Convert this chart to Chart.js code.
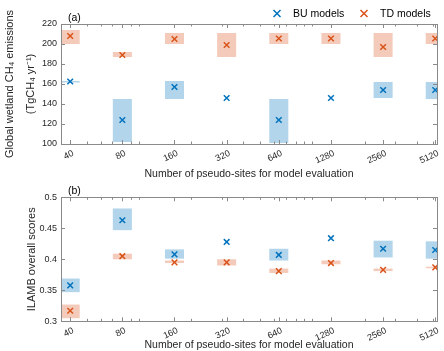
<!DOCTYPE html>
<html>
<head>
<meta charset="utf-8">
<title>pseudo-sites</title>
<script src="https://cdn.jsdelivr.net/npm/chart.js@4/dist/chart.umd.min.js"></script>
<style>
  body { margin: 0; background: #fff; }
  canvas { position: absolute; left: 0; }
</style>
</head>
<body>
<canvas id="emis" width="444" height="180" style="top:0"></canvas>
<canvas id="score" width="444" height="171" style="top:180px"></canvas>
<script>
const sites = [40, 80, 160, 320, 640, 1280, 2560, 5120];
const minorSites = [50, 60, 70, 90, 100, 200, 300, 400, 500, 600, 700, 800, 900, 1000, 2000, 3000, 4000, 5000];

// (a) global wetland CH4 emissions
const buEmis   = [162.5, 124, 157, 146, 124, 146, 154, 154];
const buEmisLo = [162, 102, 145, null, 101, null, 146, 145];
const buEmisHi = [163, 145, 163, null, 145, null, 162, 162];
const tdEmis   = [208, 189, 205, 199, 205.5, 205.5, 197, 205.5];
const tdEmisLo = [200, 187, 200, 187, 200, 200, 187, 200];
const tdEmisHi = [214, 192, 211, 211, 211, 211, 211, 211];
const emisTicks = [100, 120, 140, 160, 180, 200, 220];

// (b) ILAMB overall scores
const buScore   = [0.358, 0.463, 0.408, 0.428, 0.407, 0.434, 0.417, 0.415];
const buScoreLo = [0.347, 0.447, 0.401, null, 0.398, null, 0.403, 0.401];
const buScoreHi = [0.369, 0.482, 0.416, null, 0.417, null, 0.430, 0.429];
const tdScore   = [0.317, 0.405, 0.395, 0.395, 0.381, 0.394, 0.383, 0.387];
const tdScoreLo = [0.305, 0.400, 0.394, 0.390, 0.378, 0.392, 0.381, 0.386];
const tdScoreHi = [0.327, 0.409, 0.398, 0.400, 0.385, 0.398, 0.385, 0.388];
const scoreTicks = [0.3, 0.35, 0.4, 0.45, 0.5];

const BLUE = '#0072BD', ORANGE = '#D95319';
const BLUE_BOX = 'rgb(179,213,235)', ORANGE_BOX = 'rgb(244,203,186)';
const FONT = "'Liberation Sans', Arial, sans-serif";
const TEXT = '#262626';
const HALF = 1.135; // half box width, as a factor on the log axis

function xy(vals) {
  return sites.map((s, i) => ({ x: s, y: vals[i] }));
}

// shaded ranges, inner ticks, frame, panel letter, legend
const panelPlugin = {
  id: 'panel',
  beforeDatasetsDraw(chart, args, o) {
    const { ctx, chartArea: a, scales: { x, y } } = chart;
    ctx.save();
    ctx.beginPath();
    ctx.rect(a.left, a.top, a.right - a.left, a.bottom - a.top);
    ctx.clip();
    o.ranges.forEach(r => {
      ctx.fillStyle = r.color;
      sites.forEach((s, i) => {
        if (r.lo[i] == null) return;
        const x0 = x.getPixelForValue(s / HALF), x1 = x.getPixelForValue(s * HALF);
        const y0 = y.getPixelForValue(r.hi[i]), y1 = y.getPixelForValue(r.lo[i]);
        ctx.fillRect(x0, y0, x1 - x0, Math.max(y1 - y0, 1.5));
      });
    });
    ctx.restore();
  },
  afterDraw(chart, args, o) {
    const { ctx, chartArea: a, scales: { x, y } } = chart;
    ctx.save();
    ctx.strokeStyle = '#8a8a8a';
    ctx.lineWidth = 1;
    ctx.beginPath();
    const tick = (px, len) => {
      ctx.moveTo(px, a.bottom); ctx.lineTo(px, a.bottom - len);
      ctx.moveTo(px, a.top); ctx.lineTo(px, a.top + len);
    };
    sites.forEach(s => tick(Math.round(x.getPixelForValue(s)) + 0.5, 4));
    minorSites.forEach(s => tick(Math.round(x.getPixelForValue(s)) + 0.5, 2.5));
    o.yTicks.forEach(v => {
      const py = Math.round(y.getPixelForValue(v)) + 0.5;
      ctx.moveTo(a.left, py); ctx.lineTo(a.left + 4, py);
      ctx.moveTo(a.right, py); ctx.lineTo(a.right - 4, py);
    });
    ctx.stroke();
    ctx.strokeRect(Math.round(a.left) + 0.5, Math.round(a.top) + 0.5,
      Math.round(a.right - a.left), Math.round(a.bottom - a.top));

    ctx.fillStyle = 'black';
    ctx.font = '10.5px ' + FONT;
    ctx.textBaseline = 'middle';
    ctx.fillText(o.letter, a.left + 7, a.top - 6);

    if (o.legend) {
      const items = [{ ds: 0, x: 277 }, { ds: 1, x: 364 }];
      items.forEach(it => {
        const ds = chart.data.datasets[it.ds];
        ctx.strokeStyle = ds.borderColor;
        ctx.lineWidth = 1.5;
        ctx.beginPath();
        ctx.moveTo(it.x - 3.5, 10); ctx.lineTo(it.x + 3.5, 17);
        ctx.moveTo(it.x + 3.5, 10); ctx.lineTo(it.x - 3.5, 17);
        ctx.stroke();
        ctx.fillStyle = 'black';
        ctx.fillText(ds.label, it.x + 16, 14);
      });
    }
    ctx.restore();
  }
};

function makeChart(id, bu, td, ranges, yMin, yMax, yTicks, yTitle, yTitlePad, top, xHeight, extra) {
  return new Chart(document.getElementById(id), {
    type: 'scatter',
    data: {
      datasets: [
        { label: 'BU models', data: xy(bu), borderColor: BLUE, backgroundColor: BLUE },
        { label: 'TD models', data: xy(td), borderColor: ORANGE, backgroundColor: ORANGE }
      ]
    },
    options: {
      responsive: false,
      animation: false,
      layout: { padding: { top: top, right: 7, left: 0, bottom: 0 } },
      elements: { point: { pointStyle: 'crossRot', radius: 4, borderWidth: 1.5, hoverRadius: 4 } },
      plugins: {
        legend: { display: false },
        tooltip: { enabled: false },
        panel: Object.assign({ ranges: ranges, yTicks: yTicks }, extra)
      },
      scales: {
        x: {
          type: 'logarithmic',
          min: 35.4,
          max: 5240,
          afterBuildTicks: s => { s.ticks = sites.map(v => ({ value: v })); },
          afterFit: s => { s.height = xHeight; },
          grid: { display: false, drawTicks: false },
          border: { display: false },
          ticks: {
            autoSkip: false,
            minRotation: 25, maxRotation: 25,
            padding: 4,
            labelOffset: 3,
            color: TEXT,
            font: { family: FONT, size: 9 },
            callback: v => String(v)
          },
          title: {
            display: true,
            text: 'Number of pseudo-sites for model evaluation',
            color: TEXT,
            font: { family: FONT, size: 10.5 },
            padding: { top: 0, bottom: 0 }
          }
        },
        y: {
          min: yMin,
          max: yMax,
          afterBuildTicks: s => { s.ticks = yTicks.map(v => ({ value: v })); },
          afterFit: s => { s.width = 61; },
          grid: { display: false, drawTicks: false },
          border: { display: false },
          ticks: {
            padding: 4,
            color: TEXT,
            font: { family: FONT, size: 9 },
            callback: v => String(parseFloat(v.toFixed(2)))
          },
          title: {
            display: true,
            text: yTitle,
            color: TEXT,
            font: { family: FONT, size: 11, lineHeight: 1.9 },
            padding: { top: yTitlePad, bottom: 0 }
          }
        }
      }
    },
    plugins: [panelPlugin]
  });
}

makeChart('emis', buEmis, tdEmis,
  [{ lo: buEmisLo, hi: buEmisHi, color: BLUE_BOX }, { lo: tdEmisLo, hi: tdEmisHi, color: ORANGE_BOX }],
  100, 220, emisTicks,
  ['Global wetland CH\u2084 emissions', '(TgCH\u2084 yr\u207B\u00B9)'], 0,
  24, 36, { letter: '(a)', legend: true });

makeChart('score', buScore, tdScore,
  [{ lo: buScoreLo, hi: buScoreHi, color: BLUE_BOX }, { lo: tdScoreLo, hi: tdScoreHi, color: ORANGE_BOX }],
  0.3, 0.5, scoreTicks,
  'ILAMB overall scores', 21.5,
  17.3, 29.7, { letter: '(b)', legend: false });
</script>
</body>
</html>
